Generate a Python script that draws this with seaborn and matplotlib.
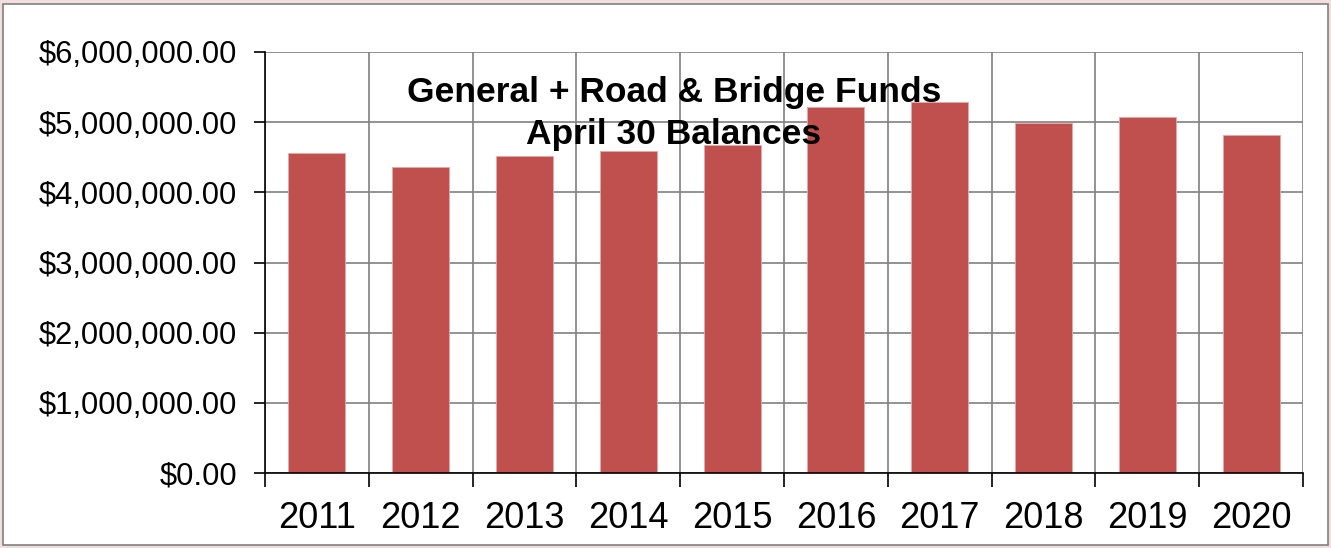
import matplotlib
matplotlib.use("Agg")
import matplotlib.pyplot as plt
import seaborn as sns
import pandas as pd
from matplotlib.patches import Rectangle
from matplotlib.ticker import FuncFormatter, FixedLocator

years = ["2011", "2012", "2013", "2014", "2015", "2016", "2017", "2018", "2019", "2020"]
balances = [4560000, 4360000, 4520000, 4590000, 4670000, 5220000, 5290000, 4990000, 5070000, 4820000]
title_lines = ["General + Road & Bridge Funds", "April 30 Balances"]

df = pd.DataFrame({"year": years, "balance": balances})

sns.set_theme(style="white")
plt.rcParams["font.family"] = ["Liberation Sans", "DejaVu Sans"]

fig = plt.figure(figsize=(13.31, 5.48), dpi=100)
fig.patch.set_facecolor("#f3dede")
fig.patches.append(Rectangle((3 / 1331, 3 / 548), 1325 / 1331, 541 / 548,
                             transform=fig.transFigure, facecolor="white",
                             edgecolor="#808080", linewidth=1.2, zorder=-10))

ax = fig.add_axes([265 / 1331, 1 - 473 / 548, 1038 / 1331, 421 / 548])
ax.set_facecolor("white")
sns.barplot(data=df, x="year", y="balance", color="#C0504D", width=0.55,
            saturation=1, edgecolor="#e8a8a8", linewidth=0.6, ax=ax, zorder=3)

ax.set_xlim(-0.5, 9.5)
ax.set_ylim(0, 6000000)
ax.set_yticks([0, 1000000, 2000000, 3000000, 4000000, 5000000, 6000000])
ax.yaxis.set_major_formatter(FuncFormatter(lambda v, p: f"${v:,.2f}"))
ax.xaxis.set_minor_locator(FixedLocator([i - 0.5 for i in range(11)]))

ax.grid(True, axis="y", which="major", color="#808080", linewidth=1.2, zorder=0)
ax.grid(True, axis="x", which="minor", color="#808080", linewidth=1.2, zorder=0)
ax.grid(False, axis="x", which="major")

for side in ["top", "right"]:
    ax.spines[side].set_visible(False)
for side in ["left", "bottom"]:
    ax.spines[side].set_color("black")
    ax.spines[side].set_linewidth(1.2)
    ax.spines[side].set_zorder(4)

ax.tick_params(axis="y", which="major", left=True, length=8, width=1.2, color="black",
               labelsize=22.2, pad=12, labelcolor="black")
ax.tick_params(axis="x", which="major", bottom=False, labelsize=26, pad=14, labelcolor="black")
ax.tick_params(axis="x", which="minor", bottom=True, length=10, width=1.2, color="black")

ax.set_xlabel("")
ax.set_ylabel("")

ax.text(0.394, 0.903, title_lines[0], transform=ax.transAxes, ha="center", va="center",
        fontsize=25.5, fontweight="bold", color="black", zorder=5)
ax.text(0.394, 0.803, title_lines[1], transform=ax.transAxes, ha="center", va="center",
        fontsize=25.5, fontweight="bold", color="black", zorder=5)

fig.savefig("out.png", dpi=100, facecolor=fig.get_facecolor())
